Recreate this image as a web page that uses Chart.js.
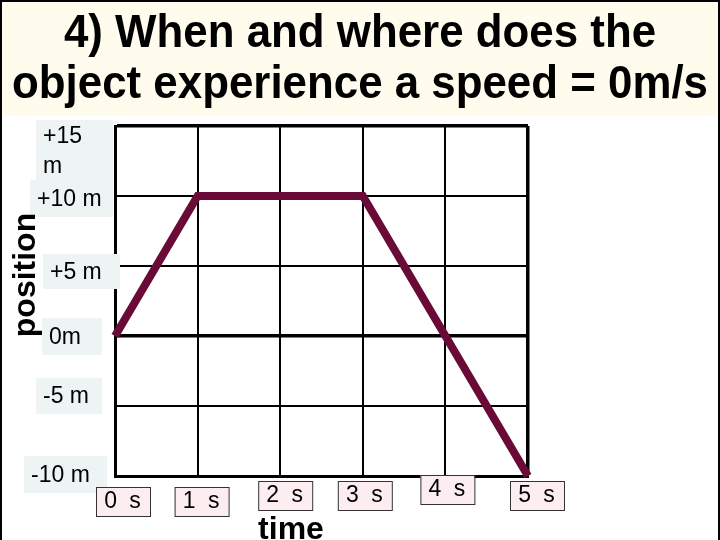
<!DOCTYPE html>
<html lang="en">
<head>
    <meta charset="UTF-8">
    <title>Position vs time</title>
    <script src="https://cdn.jsdelivr.net/npm/chart.js"></script>
    <style>
        html, body { margin: 0; padding: 0; background: #fff; }
        #wrap { width: 720px; height: 540px; }
    </style>
</head>
<body>
    <div id="wrap">
        <canvas id="myChart" width="720" height="540"></canvas>
    </div>

    <script>
        const titleLines = ['4) When and where does the', 'object experience a speed = 0m/s'];
        const times = [0, 1, 3, 5];
        const positions = [0, 10, 10, -10];
        const xTicks = [0, 1, 2, 3, 4, 5];
        const xTickLabels = ['0 s', '1 s', '2 s', '3 s', '4 s', '5 s'];
        const yTicks = [15, 10, 5, 0, -5, -10];
        const yTickLabels = [['+15', 'm'], ['+10 m'], ['+5 m'], ['0m'], ['-5 m'], ['-10 m']];
        const xTitle = 'time';
        const yTitle = 'position';

        // label boxes sit a bit off their gridline, like in the slide
        const yBoxes = [
            { x: 36, w: 77, dy: -6, h: 60 },
            { x: 30, w: 83, dy: -16, h: 37 },
            { x: 43, w: 77, dy: -12, h: 35 },
            { x: 42, w: 60, dy: -18, h: 37 },
            { x: 36, w: 66, dy: -28, h: 36 },
            { x: 24, w: 83, dy: -20, h: 37 }
        ];
        const xBoxes = [
            { dx: -19, dy: 11 }, { dx: -23, dy: 11 }, { dx: -22, dy: 5 },
            { dx: -25, dy: 5 }, { dx: -25, dy: -1 }, { dx: -18, dy: 5 }
        ];

        const slide = {
            id: 'slide',
            beforeDraw(chart) {
                const ctx = chart.ctx;
                ctx.save();
                ctx.fillStyle = '#ffffff';
                ctx.fillRect(0, 0, 720, 540);
                ctx.fillStyle = '#fffcee';
                ctx.fillRect(2, 2, 716, 114);
                ctx.fillStyle = '#000';
                ctx.font = 'bold 46px "Liberation Sans", Arial, sans-serif';
                ctx.textAlign = 'center';
                ctx.textBaseline = 'alphabetic';
                const w2 = ctx.measureText(titleLines[1]).width;
                const sx = 696 / w2;
                [47, 98].forEach((base, i) => {
                    ctx.save();
                    ctx.translate(360, base);
                    ctx.scale(sx, 1);
                    ctx.fillText(titleLines[i], 0, 0);
                    ctx.restore();
                });
                ctx.restore();
            },
            afterDraw(chart) {
                const ctx = chart.ctx;
                const xs = chart.scales.x, ys = chart.scales.y;
                ctx.save();
                ctx.font = '23px "Liberation Sans", Arial, sans-serif';
                ctx.textBaseline = 'middle';
                ctx.textAlign = 'left';
                yTicks.forEach((v, i) => {
                    const b = yBoxes[i];
                    const top = ys.getPixelForValue(v) + b.dy;
                    ctx.fillStyle = '#eef4f4';
                    ctx.fillRect(b.x, top, b.w, b.h);
                    ctx.fillStyle = '#000';
                    const lines = yTickLabels[i];
                    if (lines.length === 1) {
                        ctx.fillText(lines[0], b.x + 7, top + b.h / 2 + 1);
                    } else {
                        ctx.fillText(lines[0], b.x + 7, top + 17);
                        ctx.fillText(lines[1], b.x + 7, top + 47);
                    }
                });
                ctx.textAlign = 'center';
                ctx.letterSpacing = '3px';
                xTicks.forEach((v, i) => {
                    const b = xBoxes[i];
                    const left = xs.getPixelForValue(v) + b.dx;
                    const top = xs.bottom + b.dy;
                    ctx.fillStyle = '#fcedf1';
                    ctx.fillRect(left, top, 54, 29);
                    ctx.strokeStyle = '#333';
                    ctx.lineWidth = 1;
                    ctx.strokeRect(left + 0.5, top + 0.5, 54, 29);
                    ctx.fillStyle = '#000';
                    ctx.fillText(xTickLabels[i], left + 28, top + 15);
                });
                ctx.letterSpacing = '0px';
                // axis titles
                ctx.font = 'bold 32px "Liberation Sans", Arial, sans-serif';
                ctx.textBaseline = 'alphabetic';
                ctx.fillText(xTitle, 291, 539);
                ctx.save();
                ctx.translate(35, 275);
                ctx.rotate(-Math.PI / 2);
                ctx.font = 'bold 32px "Liberation Sans", Arial, sans-serif';
                ctx.textAlign = 'center';
                ctx.fillText(yTitle, 0, 0);
                ctx.restore();
                // frame round the slide
                ctx.fillStyle = '#000';
                ctx.fillRect(0, 0, 720, 2);
                ctx.fillRect(0, 0, 2, 540);
                ctx.fillRect(718, 0, 2, 540);
                ctx.restore();
            }
        };

        const ctx = document.getElementById('myChart').getContext('2d');
        new Chart(ctx, {
            type: 'line',
            data: {
                datasets: [{
                    data: times.map((t, i) => ({ x: t, y: positions[i] })),
                    borderColor: '#6a0a36',
                    borderWidth: 8,
                    pointRadius: 0,
                    fill: false,
                    tension: 0,
                    clip: false
                }]
            },
            options: {
                responsive: false,
                animation: false,
                devicePixelRatio: 1,
                layout: { padding: { left: 115, top: 126, right: 192, bottom: 64 } },
                plugins: { legend: { display: false }, tooltip: { enabled: false } },
                scales: {
                    x: {
                        type: 'linear', min: 0, max: 5,
                        afterBuildTicks: s => { s.ticks = xTicks.map(v => ({ value: v })); },
                        ticks: { display: false },
                        grid: {
                            color: '#000', drawTicks: false,
                            lineWidth: c => (c.tick && c.tick.value === 5 ? 3.5 : 2)
                        },
                        border: { color: '#000', width: 3 }
                    },
                    y: {
                        min: -10, max: 15,
                        afterBuildTicks: s => { s.ticks = yTicks.map(v => ({ value: v })); },
                        ticks: { display: false },
                        grid: {
                            color: '#000', drawTicks: false,
                            lineWidth: c => (c.tick && (c.tick.value === 0 || c.tick.value === 15) ? 3.5 : 2)
                        },
                        border: { color: '#000', width: 3 }
                    }
                }
            },
            plugins: [slide]
        });
    </script>
</body>
</html>
